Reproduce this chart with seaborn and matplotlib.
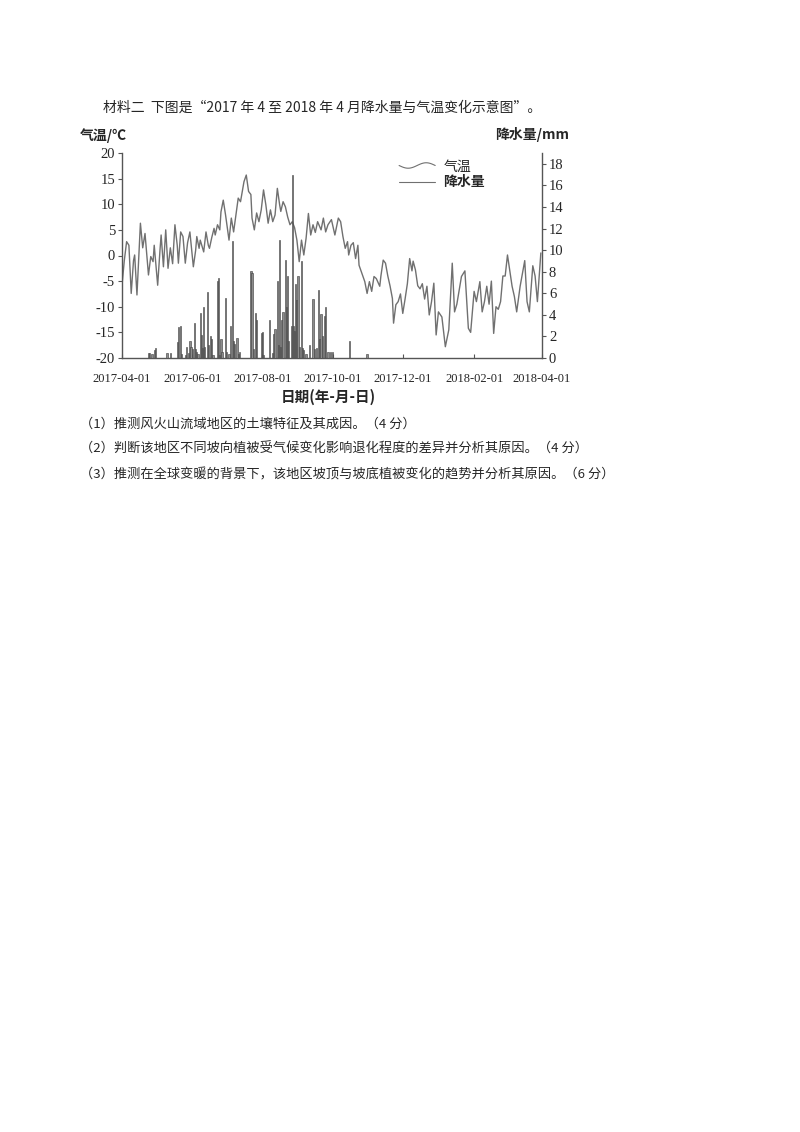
"""
2017-04 to 2018-04 precipitation and temperature chart (exam page figure)
"""
import numpy as np
import pandas as pd
import matplotlib
matplotlib.use('Agg')
import matplotlib.pyplot as plt
import matplotlib.dates as mdates
from matplotlib.lines import Line2D
from matplotlib.legend_handler import HandlerBase
import seaborn as sns

START = pd.Timestamp('2017-04-01')
END = pd.Timestamp('2018-04-01')

# daily temperature (day offset from 2017-04-01, deg C)
temp_days = [0, 2, 4, 6, 8, 10, 11, 13, 16, 18, 20, 22, 23, 25, 27, 28, 31, 33, 34, 36,
             38, 40, 42, 44, 46, 48, 49, 51, 53, 55, 57, 59, 62, 64, 65, 67, 68, 71, 73, 75,
             76, 78, 80, 81, 83, 85, 86, 88, 90, 93, 95, 97, 99, 101, 103, 106, 108, 110, 112, 113,
             115, 117, 119, 121, 123, 125, 127, 129, 131, 133, 135, 137, 138, 140, 142, 144, 146, 148, 150, 152,
             154, 156, 158, 160, 162, 164, 166, 168, 170, 173, 175, 177, 179, 182, 185, 188, 190, 192, 194, 196,
             197, 199, 201, 203, 205, 206, 208, 211, 213, 215, 217, 219, 221, 224, 225, 227, 229, 231, 233, 235,
             236, 238, 240, 242, 244, 246, 248, 250, 252, 253, 255, 257, 259, 261, 263, 265, 267, 269, 271, 273,
             275, 278, 281, 284, 287, 289, 291, 295, 298, 301, 303, 306, 308, 311, 313, 315, 317, 319, 321, 323,
             325, 327, 329, 331, 333, 335, 337, 339, 341, 343, 346, 348, 350, 352, 354, 357, 359, 361, 364]
temp_vals = [-5.8, -1.0, 2.7, 2.0, -7.4, -1.0, 0.1, -7.7, 6.3, 1.5, 4.3, -1.0, -3.8, -0.2, -1.2, 2.0, -5.8, 1.0, 4.0, -2.2,
             5.0, -2.5, 1.5, -1.6, 6.0, 2.0, -1.5, 4.6, 3.7, -1.5, 2.5, 4.6, -2.2, 1.0, 3.7, 1.4, 3.0, 0.7, 4.6, 2.0,
             1.4, 3.5, 5.3, 4.0, 6.0, 5.0, 8.5, 10.8, 7.9, 3.0, 7.3, 4.6, 7.9, 11.2, 10.5, 14.4, 15.7, 12.5, 11.9, 7.3,
             5.0, 8.3, 6.6, 8.9, 12.8, 9.9, 6.3, 8.9, 6.6, 7.9, 13.1, 9.9, 8.6, 10.5, 9.5, 7.5, 6.0, 6.6, 5.4, 3.0,
             -1.2, 3.0, 0.1, 3.4, 8.2, 4.0, 6.0, 4.5, 6.6, 5.0, 7.3, 4.6, 6.0, 7.0, 4.0, 7.3, 6.6, 3.7, 1.4, 2.7,
             0.1, 2.0, 2.5, -0.6, 2.0, -1.9, -3.2, -5.1, -7.4, -5.1, -7.0, -4.1, -4.5, -6.0, -4.0, -0.9, -1.5, -4.0, -6.0, -8.4,
             -13.2, -9.6, -9.0, -7.5, -11.3, -8.5, -5.5, -0.6, -3.0, -1.1, -2.8, -5.9, -6.5, -5.5, -8.5, -6.0, -11.6, -9.0, -5.4, -15.5,
             -11.0, -12.0, -17.8, -14.5, -1.5, -11.0, -9.5, -4.1, -3.0, -14.2, -15.0, -7.0, -9.0, -5.1, -11.0, -9.0, -6.0, -9.5, -5.0, -15.2,
             -10.0, -10.5, -9.0, -4.0, -4.0, 0.1, -3.0, -6.0, -8.0, -11.0, -6.0, -3.5, -1.0, -9.0, -11.0, -2.0, -4.0, -9.0, 0.5]

# daily precipitation (day offset, mm)
rain_days = [23, 24, 26, 28, 29, 39, 42, 48, 49, 51, 52, 55, 56, 58, 59, 60, 61, 63, 64, 65,
             66, 68, 69, 70, 71, 72, 74, 75, 77, 78, 79, 83, 84, 85, 86, 87, 90, 91, 93, 94,
             96, 97, 98, 100, 101, 102, 112, 113, 114, 116, 117, 121, 122, 123, 128, 131, 132, 133, 135, 136,
             137, 138, 139, 140, 142, 143, 144, 145, 147, 148, 149, 150, 151, 152, 153, 154, 156, 157, 158, 160,
             163, 166, 167, 169, 171, 172, 173, 174, 176, 177, 179, 181, 183, 198, 213]
rain_vals = [0.5, 0.5, 0.4, 0.7, 0.9, 0.5, 0.5, 1.5, 2.9, 3.0, 0.4, 0.3, 1.0, 0.5, 1.6, 1.0, 0.8, 3.2, 0.8, 0.6,
             0.4, 4.2, 2.1, 0.9, 4.7, 1.0, 6.1, 1.2, 2.0, 1.8, 0.3, 7.1, 7.4, 0.3, 1.8, 0.6, 5.6, 0.6, 0.4, 3.0,
             10.8, 1.6, 1.3, 1.9, 0.4, 0.6, 8.1, 7.9, 0.8, 4.2, 3.5, 2.3, 2.4, 0.3, 3.5, 0.5, 2.2, 2.7, 7.1, 1.2,
             10.9, 1.0, 3.5, 4.3, 9.1, 4.7, 7.6, 1.6, 3.0, 17.0, 3.0, 2.5, 6.9, 5.4, 7.6, 1.0, 9.0, 0.9, 0.7, 0.4,
             1.2, 5.5, 0.8, 0.9, 6.3, 1.8, 4.1, 2.0, 3.9, 4.7, 0.6, 0.6, 0.6, 1.6, 0.4]

temp_ticks = [-20, -15, -10, -5, 0, 5, 10, 15, 20]
rain_ticks = [0, 2, 4, 6, 8, 10, 12, 14, 16, 18]

title_text = '材料二  下图是“2017 年 4 至 2018 年 4 月降水量与气温变化示意图”。'
questions = [
    '（1）推测风火山流域地区的土壤特征及其成因。（4 分）',
    '（2）判断该地区不同坡向植被受气候变化影响退化程度的差异并分析其原因。（4 分）',
    '（3）推测在全球变暖的背景下，该地区坡顶与坡底植被变化的趋势并分析其原因。（6 分）',
]

CJK = ['Noto Sans CJK SC', 'DejaVu Sans']
LINE_C = '#707070'
AX_C = '#555555'


class WavyHandler(HandlerBase):
    """Legend glyph drawn as a small wave (temperature)"""
    def create_artists(self, legend, orig_handle, xdescent, ydescent,
                       width, height, fontsize, trans):
        xs = np.linspace(0, width, 40)
        ys = height / 2 + height * 0.28 * np.sin(xs / width * 2 * np.pi + np.pi)
        line = Line2D(xs - xdescent, ys - ydescent, color=LINE_C, lw=0.8, transform=trans)
        return [line]


def main():
    sns.set_theme(style='white')
    plt.rcParams['font.family'] = ['Liberation Serif', 'Noto Sans CJK SC', 'DejaVu Sans']
    plt.rcParams['axes.unicode_minus'] = False

    W, H = 800, 1132
    fig = plt.figure(figsize=(W / 100, H / 100), dpi=100)
    fig.patch.set_facecolor('white')

    ax = fig.add_axes([122 / W, 1 - 358 / H, 420 / W, 205 / H])
    ax.set_facecolor('white')

    temp_df = pd.DataFrame({
        'date': START + pd.to_timedelta(temp_days, unit='D'),
        'temp': temp_vals,
    })
    rain_df = pd.DataFrame({
        'date': START + pd.to_timedelta(rain_days, unit='D'),
        'rain': rain_vals,
    })

    sns.lineplot(data=temp_df, x='date', y='temp', ax=ax, color=LINE_C, lw=1.0)

    ax2 = ax.twinx()
    ax2.bar(rain_df['date'], rain_df['rain'], width=1.1,
            color='#8c8c8c', edgecolor='#3a3a3a', linewidth=0.4)

    ax.set_xlim(START, END)
    ax.set_ylim(-20, 20)
    ax2.set_ylim(0, 19)
    ax.set_yticks(temp_ticks)
    ax2.set_yticks(rain_ticks)
    ax.set_xticks(pd.date_range(START, END, freq='2MS'))
    ax.xaxis.set_major_formatter(mdates.DateFormatter('%Y-%m-%d'))
    ax.set_xlabel('')
    ax.set_ylabel('')
    ax2.set_ylabel('')

    for a in (ax, ax2):
        for s in a.spines.values():
            s.set_visible(False)
            s.set_color(AX_C)
            s.set_linewidth(1.0)
    ax.spines['left'].set_visible(True)
    ax.spines['bottom'].set_visible(True)
    ax2.spines['right'].set_visible(True)

    ax.tick_params(axis='y', direction='out', length=3, width=0.8, color=AX_C,
                   labelsize=10.5, pad=2, left=True)
    ax.tick_params(axis='x', direction='in', length=3, width=0.8, color=AX_C,
                   labelsize=9, pad=11, bottom=True)
    ax2.tick_params(axis='y', direction='out', length=3, width=0.8, color=AX_C,
                    labelsize=10.5, pad=2, right=True)
    ax.grid(False)
    ax2.grid(False)

    # legend
    handles = [Line2D([], [], color=LINE_C), Line2D([], [], color=LINE_C, lw=0.8)]
    leg = ax2.legend(handles, ['气温', '降水量'], loc='upper left',
                     bbox_to_anchor=(0.63, 1.03), frameon=False,
                     handlelength=2.6, handletextpad=0.6, labelspacing=0.15,
                     prop={'family': CJK, 'size': 10},
                     handler_map={handles[0]: WavyHandler()})
    leg.get_texts()[1].set_fontweight('bold')

    # axis titles
    fig.text(80 / W, 1 - 136 / H, '气温/℃', ha='left', va='center',
             fontsize=10, fontweight='bold', family=CJK)
    fig.text(569 / W, 1 - 134 / H, '降水量/mm', ha='right', va='center',
             fontsize=10, fontweight='bold', family=CJK)
    fig.text(328 / W, 1 - 397 / H, '日期(年-月-日)', ha='center', va='center',
             fontsize=10.5, fontweight='bold', family=CJK)

    # page text
    fig.text(103 / W, 1 - 108 / H, title_text, ha='left', va='center',
             fontsize=10, family=CJK)
    for i, q in enumerate(questions):
        fig.text(80 / W, 1 - (424 + i * 25.5) / H, q, ha='left', va='center',
                 fontsize=9.5, family=CJK)

    fig.savefig('out.png', dpi=100, facecolor='white')
    plt.close(fig)


if __name__ == "__main__":
    main()
